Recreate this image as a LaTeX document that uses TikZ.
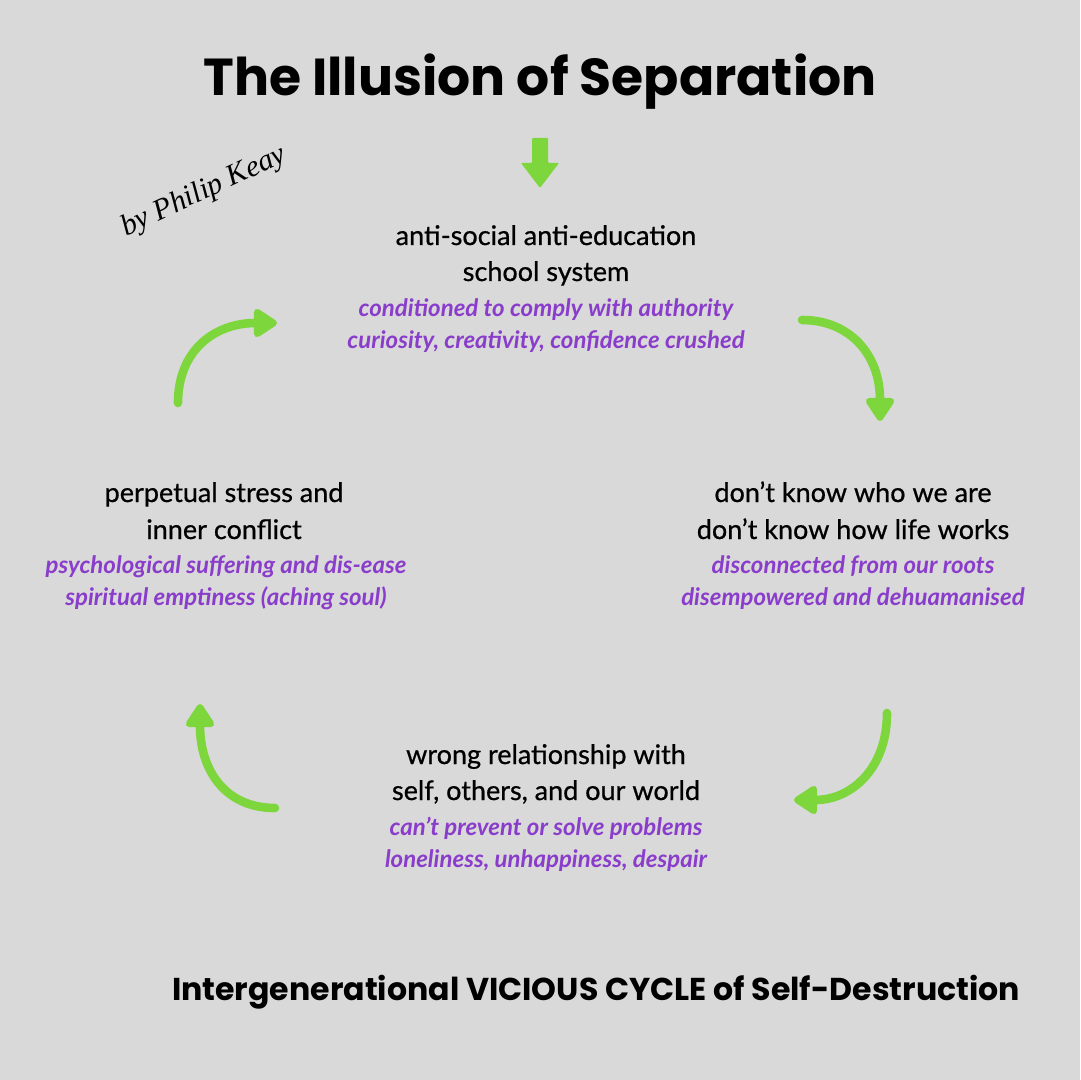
\documentclass[tikz,border=0pt]{standalone}
\usepackage{fontspec}
\setmainfont{Lato}
\newfontfamily\latomed{Lato}[FakeBold=0.7]
\newfontfamily\popfont{Poppins}
\newfontfamily\sigfont{Liberation Serif}
\usetikzlibrary{arrows.meta}
\definecolor{bg}{HTML}{D9D9D9}
\definecolor{lime}{HTML}{7DD63C}
\definecolor{purp}{HTML}{8A3CCB}
\tikzset{
  blk/.style={anchor=base, inner sep=0pt, font=\latomed\fontsize{13.5}{15}\selectfont, text=black},
  pur/.style={anchor=base, inner sep=0pt, font=\fontsize{12}{14}\selectfont\bfseries\itshape, text=purp},
  garrow/.style={draw=lime, line width=4.3pt, line cap=round, -{Triangle[round,length=13pt,width=16pt]}},
}
\begin{document}
\begin{tikzpicture}[x=0.5pt,y=-0.5pt]
\fill[bg] (0,0) rectangle (1080,1080);
\useasboundingbox (0,0) rectangle (1080,1080);

% title
\node[anchor=base, inner sep=0pt, font=\popfont\bfseries\fontsize{26}{30}\selectfont] (title) at (540,96) {The Illusion of Separation};

% signature
\node[inner sep=0pt, rotate=25, font=\sigfont\itshape\fontsize{15}{17}\selectfont] (sig) at (204,192) {by Philip Keay};

% down arrow
\fill[lime, rounded corners=0.5pt] (532,138) -- (548,138) -- (548,163) -- (559,163) -- (540,188) -- (521,163) -- (532,163) -- cycle;

% top block
\node[blk] (t1) at (546,245) {anti-social anti-education};
\node[blk] (t2) at (546,281) {school system};
\node[pur] (t3) at (546,316) {conditioned to comply with authority};
\node[pur] (t4) at (546,349) {curiosity, creativity, confidence crushed};

% right block
\node[blk] (r1) at (853,502) {don’t know who we are};
\node[blk] (r2) at (853,539) {don’t know how life works};
\node[pur] (r3) at (853,573) {disconnected from our roots};
\node[pur] (r4) at (853,605) {disempowered and dehuamanised};

% left block
\node[blk] (l1) at (224,502) {perpetual stress and};
\node[blk] (l2) at (224,539) {inner conflict};
\node[pur] (l3) at (226,573) {psychological suffering and dis-ease};
\node[pur] (l4) at (226,605) {spiritual emptiness (aching soul)};

% bottom block
\node[blk] (b1) at (546,764) {wrong relationship with};
\node[blk] (b2) at (546,800) {self, others, and our world};
\node[pur] (b3) at (546,835) {can’t prevent or solve problems};
\node[pur] (b4) at (546,867) {loneliness, unhappiness, despair};

% bottom caption
\node[anchor=base, inner sep=0pt, font=\popfont\bfseries\fontsize{15.8}{18}\selectfont] (cap) at (596,1000) {Intergenerational VICIOUS CYCLE of Self-Destruction};

% cycle arrows
\coordinate (a1s) at (178,403); \coordinate (a1e) at (277,323);
\coordinate (a2s) at (802,320); \coordinate (a2e) at (880,421);
\coordinate (a3s) at (887,713); \coordinate (a3e) at (794,800);
\coordinate (a4s) at (275,808); \coordinate (a4e) at (200,704);
\draw[garrow] (a1s) .. controls (178,350) and (215,323) .. (a1e);
\draw[garrow] (a2s) .. controls (850,320) and (880,355) .. (a2e);
\draw[garrow] (a3s) .. controls (887,770) and (850,800) .. (a3e);
\draw[garrow] (a4s) .. controls (225,808) and (200,770) .. (a4e);
\end{tikzpicture}
\end{document}
